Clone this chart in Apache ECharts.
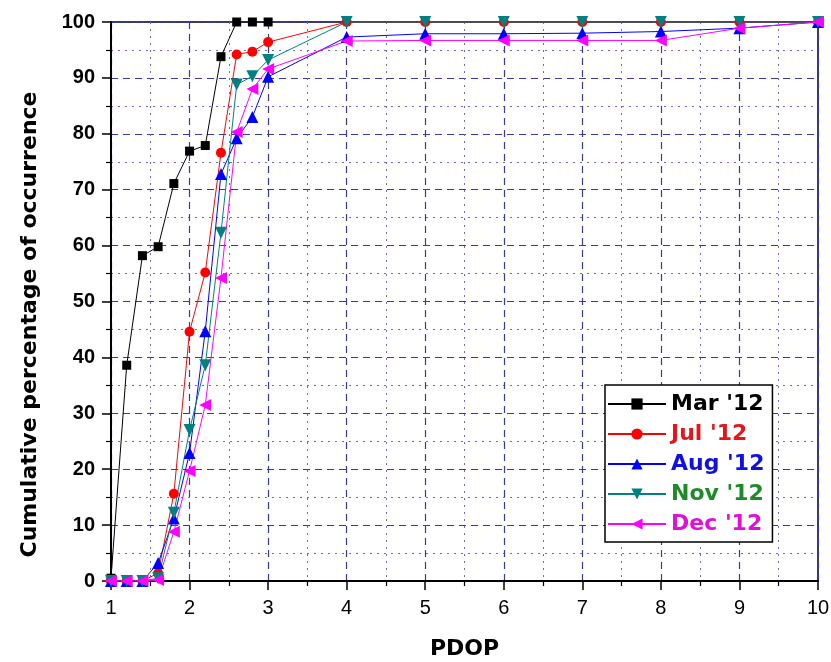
<!DOCTYPE html>
<html>
<head>
<meta charset="utf-8">
<script src="https://cdn.jsdelivr.net/npm/echarts@6/dist/echarts.min.js"></script>
<style>
  html, body { margin: 0; padding: 0; background: #fff; }
  #chart { width: 831px; height: 662px; }
</style>
</head>
<body>
<div id="chart"></div>
<script>
// PDOP values on the x axis
const pdop = [1, 1.2, 1.4, 1.6, 1.8, 2, 2.2, 2.4, 2.6, 2.8, 3, 4, 5, 6, 7, 8, 9, 10];

// cumulative percentages
const mar12 = [0.5, 38.6, 58.2, 59.8, 71.1, 76.9, 77.9, 93.8, 100, 100, 100];
const jul12 = [0, 0, 0, 1.4, 15.6, 44.6, 55.2, 76.6, 94.2, 94.7, 96.4, 100, 100, 100, 100, 100, 100, 100];
const aug12 = [0, 0, 0, 3.2, 11.2, 22.9, 44.7, 72.8, 79.2, 83, 90.2, 97.3, 97.9, 97.9, 98, 98.3, 98.9, 100];
const nov12 = [0, 0, 0, 0.5, 12.2, 27, 38.6, 62.3, 88.8, 90.3, 93.2, 100, 100, 100, 100, 100, 100, 100];
const dec12 = [0, 0, 0, 0.2, 8.8, 19.7, 31.5, 54.2, 80.3, 88, 91.6, 96.6, 96.7, 96.7, 96.7, 96.7, 98.9, 100];

const seriesNames = ["Mar '12", "Jul '12", "Aug '12", "Nov '12", "Dec '12"];
const xTicks = [1, 2, 3, 4, 5, 6, 7, 8, 9, 10];
const yTicks = [0, 10, 20, 30, 40, 50, 60, 70, 80, 90, 100];

const chart = echarts.init(document.getElementById('chart'), null, { renderer: 'canvas' });

function pairs(vals) {
  return vals.map((v, i) => [pdop[i], v]);
}

const gridMajor = { color: '#3a3a9e', type: [7, 5], width: 1.2 };
const gridMinor = { color: '#6a6ac8', type: [2, 5], width: 1 };

function line(name, vals, color, symbol, size, rotate) {
  return {
    name: name,
    type: 'line',
    data: pairs(vals),
    symbol: symbol,
    symbolSize: size,
    symbolRotate: rotate || 0,
    lineStyle: { color: color, width: 1 },
    itemStyle: { color: color },
    emphasis: { disabled: true },
    animation: false
  };
}

chart.setOption({
  animation: false,
  backgroundColor: '#fff',
  grid: {
    left: 111, right: 13, top: 22, bottom: 81,
    outerBoundsMode: 'none',
    show: true, borderColor: '#000', borderWidth: 1.5
  },
  legend: {
    orient: 'vertical',
    left: 605, top: 385,
    itemWidth: 58, itemHeight: 14, itemGap: 8,
    padding: [8, 8, 7, 2],
    borderColor: '#000', borderWidth: 1.5,
    backgroundColor: '#fff',
    textStyle: { fontFamily: 'DejaVu Sans', fontWeight: 'bold', fontSize: 22 },
    data: [
      { name: seriesNames[0], textStyle: { color: '#000' } },
      { name: seriesNames[1], textStyle: { color: '#e8141a' } },
      { name: seriesNames[2], textStyle: { color: '#1010e0' } },
      { name: seriesNames[3], textStyle: { color: '#1f8a2a' } },
      { name: seriesNames[4], textStyle: { color: '#e010d8' } }
    ]
  },
  xAxis: {
    type: 'value',
    min: xTicks[0], max: xTicks[xTicks.length - 1], interval: 1,
    name: 'PDOP', nameLocation: 'middle', nameGap: 57,
    nameTextStyle: { fontFamily: 'DejaVu Sans', fontWeight: 'bold', fontSize: 22, color: '#000' },
    axisLine: { onZero: false, lineStyle: { color: '#000', width: 2 } },
    axisTick: { length: 9, lineStyle: { color: '#000', width: 1.5 } },
    minorTick: { show: true, splitNumber: 2, length: 5, lineStyle: { color: '#000', width: 1.2 } },
    axisLabel: { fontFamily: 'Liberation Sans', fontSize: 20, color: '#000', margin: 17 },
    splitLine: { show: true, lineStyle: gridMajor },
    minorSplitLine: { show: true, lineStyle: gridMinor }
  },
  yAxis: {
    type: 'value',
    min: yTicks[0], max: yTicks[yTicks.length - 1], interval: 10,
    name: 'Cumulative percentage of occurrence', nameLocation: 'middle', nameGap: 70,
    nameTextStyle: {
      fontFamily: 'DejaVu Sans', fontWeight: 'bold', fontSize: 22, color: '#000',
      padding: [0, 46, 0, 0]
    },
    axisLine: { show: true, onZero: false, lineStyle: { color: '#000', width: 2 } },
    axisTick: { show: true, length: 9, lineStyle: { color: '#000', width: 1.5 } },
    minorTick: { show: true, splitNumber: 2, length: 5, lineStyle: { color: '#000', width: 1.2 } },
    axisLabel: { fontFamily: 'Liberation Sans', fontWeight: 'bold', fontSize: 20, color: '#000', margin: 16 },
    splitLine: { show: true, lineStyle: gridMajor },
    minorSplitLine: { show: true, lineStyle: gridMinor }
  },
  series: [
    line(seriesNames[0], mar12, '#000000', 'rect', 9),
    line(seriesNames[1], jul12, '#ff0000', 'circle', 10),
    line(seriesNames[2], aug12, '#0000ff', 'triangle', 12),
    line(seriesNames[3], nov12, '#008080', 'triangle', 12, 180),
    line(seriesNames[4], dec12, '#ff00ff', 'triangle', 12, 90)
  ]
});
</script>
</body>
</html>
